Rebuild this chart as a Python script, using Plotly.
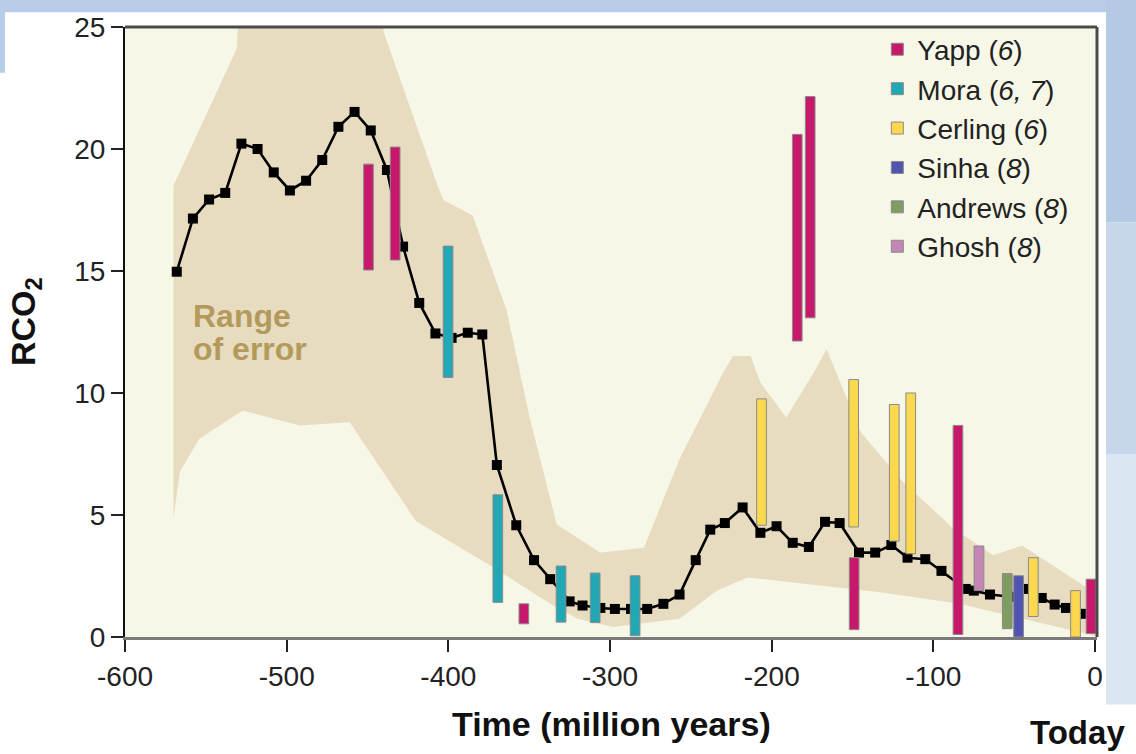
import plotly.graph_objects as go

# ---- model curve (GEOCARB-style RCO2) ----
time_myr = [-568, -558, -548, -538, -528, -518, -508, -498, -488, -478,
            -468, -458, -448, -438, -428, -418, -408, -398, -388, -379,
            -370, -358, -347, -337, -325, -317, -306, -297, -287, -277,
            -267, -257, -247, -238, -229, -218, -207, -197, -187, -177,
            -167, -158, -146, -136, -126, -116, -105, -95, -80, -75,
            -65, -52, -43, -33, -25, -18, -6, 2]
rco2 = [14.97, 17.15, 17.93, 18.2, 20.22, 20.0, 19.04, 18.3, 18.7, 19.55,
        20.91, 21.52, 20.76, 19.14, 16.0, 13.69, 12.44, 12.26, 12.47, 12.4,
        7.05, 4.58, 3.15, 2.37, 1.46, 1.29, 1.19, 1.15, 1.15, 1.15,
        1.36, 1.74, 3.15, 4.4, 4.67, 5.31, 4.27, 4.54, 3.86, 3.69,
        4.72, 4.67, 3.46, 3.46, 3.77, 3.25, 3.19, 2.71, 1.97, 1.9,
        1.74, 1.65, 1.97, 1.6, 1.33, 1.19, 0.95, 1.0]

# ---- range of error (upper edge left->right, lower edge right->left) ----
band_upper_t = [-570, -531, -528, -443, -440, -407, -403, -385, -364, -350,
                -333, -306, -279, -257, -230, -224, -213, -207, -191, -174,
                -166, -145, -119, -88, -63, -45, 0]
band_upper_v = [18.5, 24.1, 27, 27, 24.8, 18.56, 17.9, 17.28, 13.4, 9.08,
                4.61, 3.46, 3.66, 7.3, 10.84, 11.52, 11.52, 10.43, 9.0, 10.84,
                11.8, 8.4, 6.37, 4.47, 3.35, 3.75, 1.8]
band_lower_t = [0, -84, -133, -215, -234, -257, -298, -320, -337, -372,
                -420, -461, -492, -527, -554, -566, -570]
band_lower_v = [0.05, 1.36, 1.83, 2.44, 1.9, 0.75, 0.41, 0.75, 1.36, 2.85,
                4.74, 8.8, 8.67, 9.28, 8.13, 6.78, 4.88]

# ---- proxy estimates (vertical ranges) ----
yapp_t = [-449.4, -432.9, -353.3, -184.2, -176.2, -149.0, -84.8, -2.5]
yapp_lo = [15.04, 15.45, 0.54, 12.13, 13.08, 0.3, 0.1, 0.14]
yapp_hi = [19.38, 20.08, 1.36, 20.6, 22.15, 3.25, 8.67, 2.37]

mora_t = [-400.2, -369.4, -330.3, -309.2, -284.5]
mora_lo = [10.64, 1.42, 0.61, 0.59, 0.05]
mora_hi = [16.02, 5.83, 2.91, 2.62, 2.51]

cerling_t = [-206.3, -149.3, -124.2, -114.0, -38.2, -12.1]
cerling_lo = [4.58, 4.51, 3.93, 3.41, 0.84, 0.0]
cerling_hi = [9.76, 10.55, 9.53, 10.0, 3.25, 1.9]

sinha_t = [-47.3]
sinha_lo = [0.0]
sinha_hi = [2.51]

andrews_t = [-54.3]
andrews_lo = [0.34]
andrews_hi = [2.6]

ghosh_t = [-71.8]
ghosh_lo = [1.9]
ghosh_hi = [3.73]

x_ticks = [-600, -500, -400, -300, -200, -100, 0]
x_tick_labels = ["-600", "-500", "-400", "-300", "-200", "-100", "0"]
y_ticks = [0, 5, 10, 15, 20, 25]

FONT = "Liberation Sans, Arial, Helvetica, sans-serif"
X_RANGE = [-600, 1.2]
Y_RANGE = [0, 25]

fig = go.Figure()

# error band
fig.add_trace(go.Scatter(
    x=band_upper_t + band_lower_t, y=band_upper_v + band_lower_v,
    mode="lines", fill="toself", fillcolor="#e8dcc0",
    line=dict(width=0, color="#e8dcc0"), showlegend=False, hoverinfo="skip"))

# model curve
fig.add_trace(go.Scatter(
    x=time_myr, y=rco2, mode="lines+markers",
    line=dict(color="#000000", width=2.6),
    marker=dict(symbol="square", size=10, color="#000000"),
    showlegend=False, cliponaxis=False))

series = [
    ("Yapp (<i>6</i>)", yapp_t, yapp_lo, yapp_hi, "#c8186c"),
    ("Mora (<i>6, 7</i>)", mora_t, mora_lo, mora_hi, "#22a8b4"),
    ("Cerling (<i>6</i>)", cerling_t, cerling_lo, cerling_hi, "#fbd84e"),
    ("Sinha (<i>8</i>)", sinha_t, sinha_lo, sinha_hi, "#5054b0"),
    ("Andrews (<i>8</i>)", andrews_t, andrews_lo, andrews_hi, "#7f9d60"),
    ("Ghosh (<i>8</i>)", ghosh_t, ghosh_lo, ghosh_hi, "#c486b4"),
]
for name, t, lo, hi, col in series:
    fig.add_trace(go.Bar(
        x=t, y=[h - l for h, l in zip(hi, lo)], base=lo, width=6,
        name=name, marker=dict(color=col, line=dict(color="#8a8a8a", width=1)),
        xaxis="x2", yaxis="y2"))

fig.update_layout(
    width=1136, height=754,
    margin=dict(l=125, r=39, t=22, b=117, pad=0),
    paper_bgcolor="#ffffff", plot_bgcolor="#f7f7e8",
    barmode="overlay",
    font=dict(family=FONT, color="#222222"),
    xaxis=dict(range=X_RANGE, tickvals=x_ticks, ticktext=x_tick_labels,
               ticks="outside", ticklen=12,
               tickwidth=2, tickcolor="#222222", showline=True,
               linecolor="#7a7a7a", linewidth=3, showgrid=False,
               zeroline=False, tickfont=dict(size=28, family=FONT)),
    yaxis=dict(range=Y_RANGE, tickvals=y_ticks, ticks="outside", ticklen=12,
               tickwidth=2, tickcolor="#222222", showline=True,
               linecolor="#111111", linewidth=2, showgrid=False,
               zeroline=False, tickfont=dict(size=28, family=FONT)),
    xaxis2=dict(range=X_RANGE, overlaying="x", visible=False),
    yaxis2=dict(range=Y_RANGE, overlaying="y", visible=False),
    legend=dict(x=0.774, y=1.004, xanchor="left", yanchor="top",
                bgcolor="rgba(0,0,0,0)", font=dict(size=28, family=FONT,
                color="#222222"), itemwidth=30, traceorder="normal",
                tracegroupgap=0),
    showlegend=True,
)

# annotations
fig.add_annotation(x=-559, y=13.15, text="<b>Range</b>", showarrow=False,
                   xanchor="left", yanchor="middle",
                   font=dict(size=32, color="#b39a5c", family=FONT))
fig.add_annotation(x=-559, y=11.8, text="<b>of error</b>", showarrow=False,
                   xanchor="left", yanchor="middle",
                   font=dict(size=32, color="#b39a5c", family=FONT))
fig.add_annotation(xref="paper", yref="paper", x=-0.1029, y=0.518,
                   text="<b>RCO<sub>2</sub></b>", textangle=-90, showarrow=False,
                   xanchor="center", yanchor="middle",
                   font=dict(size=34, color="#111111", family=FONT))
fig.add_annotation(xref="paper", yref="paper", x=0.5, y=-0.143,
                   text="<b>Time (million years)</b>", showarrow=False,
                   xanchor="center", yanchor="middle",
                   font=dict(size=34, color="#111111", family=FONT))
fig.add_annotation(xref="paper", yref="paper", x=0.980, y=-0.156,
                   text="<b>Today</b>", showarrow=False,
                   xanchor="center", yanchor="middle",
                   font=dict(size=33, color="#111111", family=FONT))

# frame (top/right borders)
fig.add_shape(type="line", xref="paper", yref="paper", x0=0, x1=1, y0=1, y1=1,
              line=dict(color="#4a4a4a", width=3), layer="above")
fig.add_shape(type="line", xref="paper", yref="paper", x0=1, x1=1, y0=0, y1=1,
              line=dict(color="#4a4a4a", width=3), layer="above")

# decorative slide background (outside plot area)
bg = [
    (-0.2, 1.2, 1.024, 1.1, "#b7cde8"),
    (-0.2, -0.1235, 0.925, 1.1, "#b7cde8"),
    (1.0093, 1.2, 0.68, 1.1, "#b3c9e4"),
    (1.0093, 1.2, 0.30, 0.68, "#c6d7ec"),
    (1.0093, 1.2, -0.1106, 0.30, "#dbe6f3"),
]
for x0, x1, y0, y1, c in bg:
    fig.add_shape(type="rect", xref="paper", yref="paper", x0=x0, x1=x1,
                  y0=y0, y1=y1, fillcolor=c, line=dict(width=0), layer="below")

fig.write_html("out.html")
